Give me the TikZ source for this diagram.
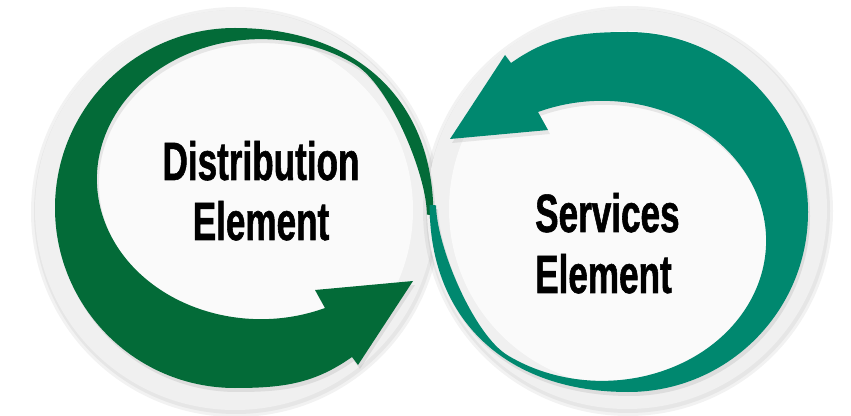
\documentclass[tikz,border=0pt]{standalone}
\usepackage{fontspec}
\newfontfamily\labelfont[FakeStretch=0.65, FakeBold=1]{Liberation Sans}
\definecolor{distgreen}{RGB}{3,107,56}
\definecolor{servteal}{RGB}{0,136,111}
% one swoosh, drawn around its own centre (thin tail at the right, head at lower right)
\newcommand\swooshpath{(-2:198.5) .. controls (198.4,111) and (118,180) .. (0,180)
  arc[start angle=90, end angle=270, radius=180]
  .. controls (50,-180) and (80,-175) .. (117,-149)
  -- (123,-157) -- (178,-73) -- (80,-82) -- (90,-100)
  arc[start angle=293, end angle=55, x radius=164, y radius=140]
  .. controls (154.3,123.1) and (191.9,33.3) .. (-2:192) -- cycle}

\begin{document}
\begin{tikzpicture}[x=1pt, y=1pt,
  disc/.style={fill=black!6},
  halo/.style={fill=black, opacity=0.05},
  core/.style={fill=black!2},
  swooshshadow/.style={fill=black, opacity=0.08},
  elemtext/.style={font=\labelfont\bfseries\fontsize{54}{60}\selectfont, text=black, inner sep=0pt}]
\useasboundingbox (0,0) rectangle (851,415);
% discs
\foreach \cx/\cy in {235/205, 627/206} {
  \fill[halo] (\cx+1,\cy-2) circle (205);
  \fill[halo] (\cx+1,\cy-2) circle (202);
  \fill[disc] (\cx,\cy) circle (200);
  \fill[core] (\cx,\cy) circle (178);
}
% swooshes
\begin{scope}[shift={(237,203)}]
  \fill[swooshshadow] \swooshpath;
\end{scope}
\begin{scope}[shift={(235,207)}]
  \fill[distgreen] \swooshpath;
\end{scope}
\begin{scope}[shift={(630,199)}, rotate=180]
  \fill[swooshshadow] \swooshpath;
\end{scope}
\begin{scope}[shift={(628,203)}, rotate=180]
  \fill[servteal] \swooshpath;
\end{scope}
% texts
\node[elemtext, anchor=base] (distname) at (261,235) {Distribution};
\node[elemtext, anchor=base] (distelem) at (261,175) {Element};
\node[elemtext, anchor=base west] (servname) at (535,183) {Services};
\node[elemtext, anchor=base west] (servelem) at (535,122) {Element};
\end{tikzpicture}
\end{document}
